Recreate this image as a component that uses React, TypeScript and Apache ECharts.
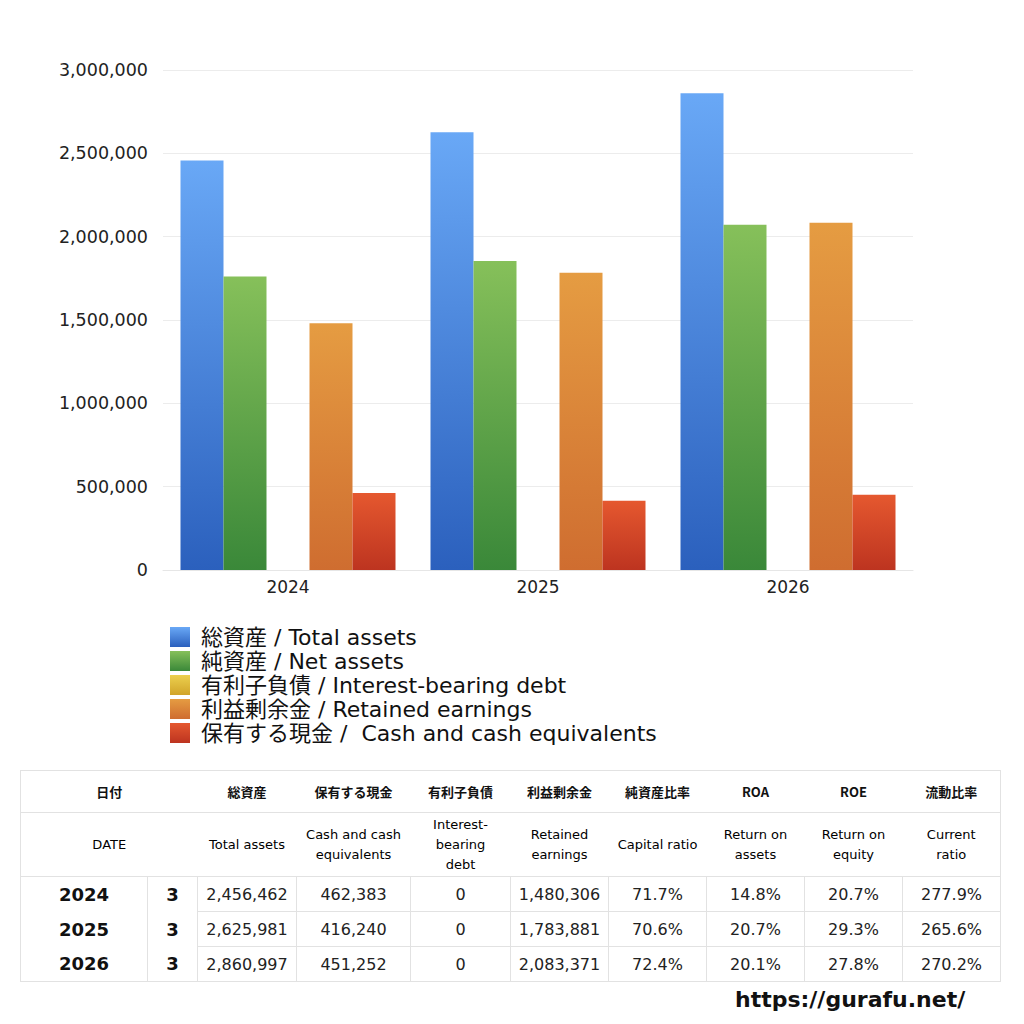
import React, { useEffect, useRef } from "react";
import * as echarts from "echarts";

const years = ["2024", "2025", "2026"];
const months = ["3", "3", "3"];

const totalAssets = [2456462, 2625981, 2860997];
const netAssets = [1761283, 1853943, 2071362];
const interestDebt = [0, 0, 0];
const retainedEarnings = [1480306, 1783881, 2083371];
const cashEquivalents = [462383, 416240, 451252];

const capitalRatio = ["71.7%", "70.6%", "72.4%"];
const roa = ["14.8%", "20.7%", "20.1%"];
const roe = ["20.7%", "29.3%", "27.8%"];
const currentRatio = ["277.9%", "265.6%", "270.2%"];

const seriesNames = [
  "総資産 / Total assets",
  "純資産 / Net assets",
  "有利子負債 / Interest-bearing debt",
  "利益剰余金 / Retained earnings",
  "保有する現金 /  Cash and cash equivalents",
];

const headJa = ["総資産", "保有する現金", "有利子負債", "利益剰余金", "純資産比率", "ROA", "ROE", "流動比率"];
const headEn = [
  ["Total assets"],
  ["Cash and cash", "equivalents"],
  ["Interest-", "bearing", "debt"],
  ["Retained", "earnings"],
  ["Capital ratio"],
  ["Return on", "assets"],
  ["Return on", "equity"],
  ["Current", "ratio"],
];

const FONT = '"DejaVu Sans", "Noto Sans CJK JP", sans-serif';

const grad = (top: string, bottom: string) =>
  new echarts.graphic.LinearGradient(0, 0, 0, 1, [
    { offset: 0, color: top },
    { offset: 1, color: bottom },
  ]);

const fmt = (v: number) => v.toLocaleString("en-US");

function BalanceChart() {
  const chartRef = useRef<HTMLDivElement>(null);

  useEffect(() => {
    const chart = echarts.init(chartRef.current!, null, { renderer: "svg" });

    const colors = [
      grad("#69a8f6", "#2b60bd"),
      grad("#86c05a", "#3a8839"),
      grad("#ecd04e", "#d1a42a"),
      grad("#e59c42", "#cf6d30"),
      grad("#e5582f", "#bd3420"),
    ];
    const values = [totalAssets, netAssets, interestDebt, retainedEarnings, cashEquivalents];

    chart.setOption({
      animation: false,
      textStyle: { fontFamily: FONT },
      grid: { left: 163, right: 111, top: 70, height: 500 },
      legend: {
        orient: "vertical",
        left: 165,
        top: 620,
        itemWidth: 20,
        itemHeight: 20,
        itemGap: 0,
        icon: "rect",
        textStyle: {
          fontSize: 22,
          lineHeight: 24,
          color: "#111",
          fontFamily: FONT,
          padding: [0, 0, 0, 6],
        },
        data: seriesNames,
      },
      xAxis: {
        type: "category",
        data: years,
        axisLine: { lineStyle: { color: "#e6e6e6" } },
        axisTick: { show: false },
        axisLabel: { fontSize: 17, color: "#222", margin: 8 },
      },
      yAxis: {
        type: "value",
        min: 0,
        max: 3000000,
        interval: 500000,
        axisLine: { show: false },
        axisTick: { show: false },
        splitLine: { lineStyle: { color: "#ececec" } },
        axisLabel: {
          fontSize: 17.5,
          color: "#222",
          margin: 15,
          formatter: (v: number) => fmt(v),
        },
      },
      series: seriesNames.map((name, i) => ({
        name,
        type: "bar",
        data: values[i],
        barGap: "0%",
        barCategoryGap: "14%",
        itemStyle: { color: colors[i] },
      })),
    });

    return () => {
      chart.dispose();
    };
  }, []);

  return (
    <div
      ref={chartRef}
      style={{ position: "absolute", left: 0, top: 0, width: 1024, height: 800 }}
    />
  );
}

const LINE = "1px solid #e2e2e2";

function DataTable() {
  const widths = [127, 50, 99, 114, 100, 98, 98, 98, 98, 98];
  const headCell: React.CSSProperties = {
    borderTop: LINE,
    borderBottom: LINE,
    textAlign: "center",
    fontSize: 13,
    fontWeight: 600,
    color: "#111",
    padding: 0,
  };
  const numCell: React.CSSProperties = {
    textAlign: "center",
    fontSize: 16,
    color: "#222",
    borderLeft: LINE,
    borderBottom: LINE,
    padding: 0,
  };
  const rows = years.map((y, i) => [
    fmt(totalAssets[i]),
    fmt(cashEquivalents[i]),
    fmt(interestDebt[i]),
    fmt(retainedEarnings[i]),
    capitalRatio[i],
    roa[i],
    roe[i],
    currentRatio[i],
  ]);

  return (
    <table
      style={{
        position: "absolute",
        left: 20,
        top: 770,
        width: 980,
        borderCollapse: "collapse",
        tableLayout: "fixed",
        fontFamily: FONT,
        borderLeft: LINE,
        borderRight: LINE,
        borderBottom: LINE,
        background: "#fff",
      }}
    >
      <colgroup>
        {widths.map((w, i) => (
          <col key={i} style={{ width: w }} />
        ))}
      </colgroup>
      <tbody>
        <tr style={{ height: 42 }}>
          <td colSpan={2} style={{ ...headCell, fontFamily: '"Noto Sans CJK JP", sans-serif' }}>日付</td>
          {headJa.map((h) => (
            <td key={h} style={{ ...headCell, fontFamily: '"Noto Sans CJK JP", sans-serif' }}>{h}</td>
          ))}
        </tr>
        <tr style={{ height: 64 }}>
          <td colSpan={2} style={{ ...headCell, fontWeight: 400, color: "#000" }}>DATE</td>
          {headEn.map((lines, i) => (
            <td key={i} style={{ ...headCell, fontWeight: 400, color: "#000", lineHeight: "20px" }}>
              {lines.map((l, j) => (
                <div key={j}>{l}</div>
              ))}
            </td>
          ))}
        </tr>
        {rows.map((r, i) => (
          <tr key={years[i]} style={{ height: 35 }}>
            <td style={{ textAlign: "center", fontSize: 18, fontWeight: 700, color: "#111", padding: 0 }}>
              {years[i]}
            </td>
            <td style={{ textAlign: "center", fontSize: 18, fontWeight: 700, color: "#111", borderLeft: LINE, padding: 0 }}>
              {months[i]}
            </td>
            {r.map((c, j) => (
              <td key={j} style={numCell}>{c}</td>
            ))}
          </tr>
        ))}
      </tbody>
    </table>
  );
}

export default function App() {
  return (
    <div
      style={{
        position: "absolute",
        left: 0,
        top: 0,
        width: 1024,
        height: 1024,
        overflow: "hidden",
        background: "#fff",
      }}
    >
      <BalanceChart />
      <DataTable />
      <div
        style={{
          position: "absolute",
          left: 735,
          top: 987,
          fontFamily: FONT,
          fontSize: 22,
          fontWeight: 700,
          color: "#111",
        }}
      >
        https://gurafu.net/
      </div>
    </div>
  );
}
